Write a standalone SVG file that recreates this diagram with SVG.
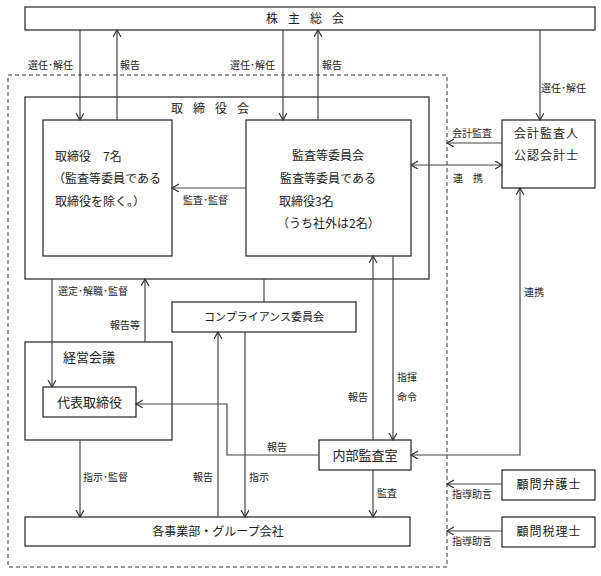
<svg xmlns="http://www.w3.org/2000/svg" width="601" height="576" viewBox="0 0 601 576">
<style>
.box{fill:#fff;stroke:#222;stroke-width:1.2}
.ln{fill:none;stroke:#444;stroke-width:1.2}
.t{font-family:"Noto Sans CJK JP","Liberation Sans",sans-serif;fill:#222}
.b{font-size:12px}
.m{font-size:13px}
.s{font-size:10px}
.c{text-anchor:middle}
</style>
<defs>
<marker id="a" markerUnits="userSpaceOnUse" markerWidth="10" markerHeight="10" refX="7" refY="4" orient="auto-start-reverse" viewBox="0 0 10 10">
<path d="M0,0 L7,4 L0,8" fill="none" stroke="#333" stroke-width="1.2"/>
</marker>
</defs>
<rect x="8" y="75" width="439" height="492" fill="none" stroke="#333" stroke-width="1" stroke-dasharray="4,3"/>
<g id="kabunushi"><rect class="box" x="25" y="7" width="570" height="23"/><text class="t b c" x="310" y="23" letter-spacing="10">株主総会</text></g>
<g id="torishimariyakukai"><rect class="box" x="25" y="97" width="404" height="182"/><text class="t b" x="171" y="113" letter-spacing="10">取締役会</text></g>
<g id="torishimariyaku"><rect class="box" x="43" y="120" width="129" height="136"/>
<text class="t b" x="55" y="161">取締役　7名</text><text class="t b" x="53" y="183">（監査等委員である</text><text class="t b" x="55" y="206">取締役を除く。）</text></g>
<g id="kansaiin"><rect class="box" x="246" y="120" width="165" height="136"/>
<text class="t b c" x="328" y="160">監査等委員会</text><text class="t b c" x="328" y="183">監査等委員である</text><text class="t b" x="279" y="206">取締役3名</text><text class="t b" x="277" y="228">（うち社外は2名）</text></g>
<g id="kaikei"><rect class="box" x="502" y="120" width="93" height="68"/><text class="t b" x="514" y="138" letter-spacing="1">会計監査人</text><text class="t b" x="514" y="160" letter-spacing="1">公認会計士</text></g>
<g id="compliance"><rect class="box" x="172" y="302" width="184" height="30"/><text class="t c" font-size="11" x="264" y="321">コンプライアンス委員会</text></g>
<g id="keiei"><rect class="box" x="25" y="342" width="147" height="98"/><text class="t m" x="63" y="362">経営会議</text></g>
<g id="daihyo"><rect class="box" x="43" y="387" width="93" height="30"/><text class="t m c" x="89.500" y="407">代表取締役</text></g>
<g id="naibu"><rect class="box" x="319" y="440" width="92" height="30"/><text class="t m c" x="365" y="460">内部監査室</text></g>
<g id="jigyobu"><rect class="box" x="25" y="517" width="385" height="29"/><text class="t b c" x="218" y="536">各事業部・グループ会社</text></g>
<g id="bengoshi"><rect class="box" x="502" y="470" width="93" height="30"/><text class="t b c" x="549" y="489" letter-spacing="1">顧問弁護士</text></g>
<g id="zeirishi"><rect class="box" x="502" y="517" width="93" height="30"/><text class="t b c" x="549" y="536" letter-spacing="1">顧問税理士</text></g>
<g id="connectors" class="ln">
<line x1="80" y1="30" x2="80" y2="120" marker-end="url(#a)"/>
<line x1="117" y1="120" x2="117" y2="30" marker-end="url(#a)"/>
<line x1="283" y1="30" x2="283" y2="120" marker-end="url(#a)"/>
<line x1="318" y1="120" x2="318" y2="30" marker-end="url(#a)"/>
<line x1="540" y1="30" x2="540" y2="120" marker-end="url(#a)"/>
<line x1="246" y1="188" x2="172" y2="188" marker-end="url(#a)"/>
<line x1="411" y1="165" x2="502" y2="165" marker-start="url(#a)" marker-end="url(#a)"/>
<line x1="502" y1="143" x2="447" y2="143" marker-end="url(#a)"/>
<path d="M411,455 H520 V188" marker-start="url(#a)" marker-end="url(#a)"/>
<line x1="373" y1="440" x2="373" y2="256" marker-end="url(#a)"/>
<line x1="393" y1="256" x2="393" y2="440" marker-end="url(#a)"/>
<line x1="264" y1="279" x2="264" y2="302"/>
<line x1="218" y1="517" x2="218" y2="332" marker-end="url(#a)"/>
<line x1="245" y1="332" x2="245" y2="517" marker-end="url(#a)"/>
<line x1="373" y1="470" x2="373" y2="517" marker-end="url(#a)"/>
<path d="M319,455 H227 V404 H136" marker-end="url(#a)"/>
<line x1="52" y1="279" x2="52" y2="387" marker-end="url(#a)"/>
<line x1="145" y1="342" x2="145" y2="279" marker-end="url(#a)"/>
<line x1="80" y1="440" x2="80" y2="517" marker-end="url(#a)"/>
<line x1="502" y1="484" x2="447" y2="484" marker-end="url(#a)"/>
<line x1="502" y1="531" x2="447" y2="531" marker-end="url(#a)"/>
</g>
<g id="labels" class="t s">
<text x="28" y="69">選任･解任</text>
<text x="120" y="69">報告</text>
<text x="230" y="69">選任･解任</text>
<text x="322" y="69">報告</text>
<text x="541" y="92">選任･解任</text>
<text x="183" y="204">監査･監督</text>
<text x="452" y="137">会計監査</text>
<text x="453" y="182">連　携</text>
<text x="524" y="296">連携</text>
<text x="58" y="295">選定･解職･監督</text>
<text x="110" y="329">報告等</text>
<text x="348" y="401">報告</text>
<text x="397" y="381">指揮</text>
<text x="397" y="401">命令</text>
<text x="267" y="451">報告</text>
<text x="83" y="481">指示･監督</text>
<text x="193" y="481">報告</text>
<text x="249" y="481">指示</text>
<text x="377" y="497">監査</text>
<text x="452" y="498">指導助言</text>
<text x="452" y="545">指導助言</text>
</g>
</svg>
